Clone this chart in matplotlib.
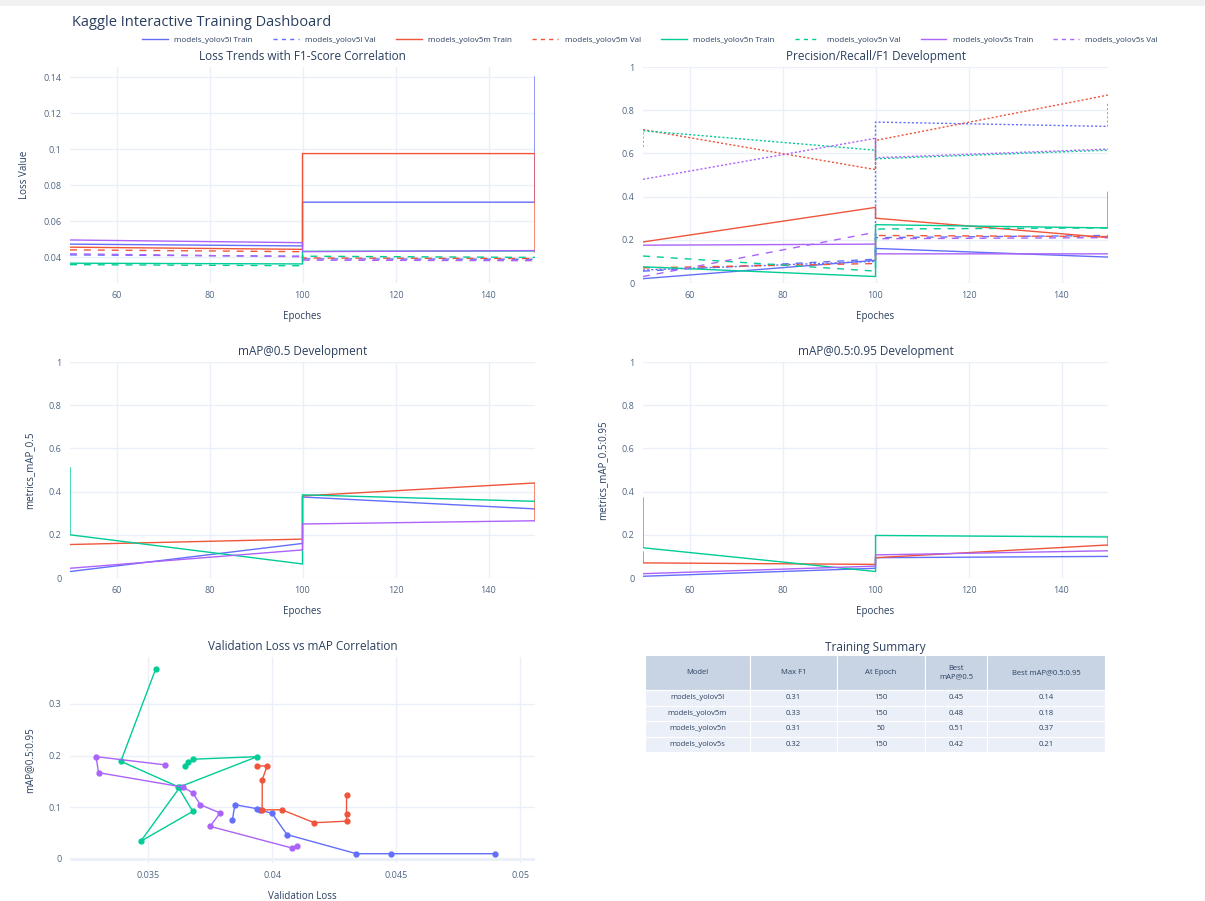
import matplotlib
matplotlib.use('Agg')
import matplotlib.pyplot as plt
from matplotlib.lines import Line2D
from matplotlib.patches import Rectangle
from matplotlib.ticker import FuncFormatter

plt.rcParams['font.family'] = ['Open Sans', 'DejaVu Sans']

W, H = 1205, 901

models = ['models_yolov5l', 'models_yolov5m', 'models_yolov5n', 'models_yolov5s']
colors = ['#636EFA', '#EF553B', '#00CC96', '#AB63FA']
epoch_ticks = [60, 80, 100, 120, 140]

# loss trends (train solid / val dashed)
loss_train_x = [[50, 100, 100, 150, 150], [50, 100, 100, 150, 150],
                [50, 100, 100, 150], [50, 100, 100, 150]]
loss_train_y = [[0.0472, 0.0462, 0.0705, 0.0705, 0.140],
                [0.0455, 0.0443, 0.0975, 0.0975, 0.0428],
                [0.0366, 0.0362, 0.0432, 0.0434],
                [0.0495, 0.0480, 0.0430, 0.0436]]
loss_val_x = [50, 100, 100, 150]
loss_val_y = [[0.0412, 0.0405, 0.0390, 0.0388],
              [0.0440, 0.0430, 0.0395, 0.0392],
              [0.0358, 0.0352, 0.0405, 0.0398],
              [0.0418, 0.0402, 0.0383, 0.0380]]

# precision (solid), recall (dotted), f1 (dashed)
prec_x = [[50, 100, 100, 150], [50, 100, 100, 150],
          [50, 100, 100, 150, 150], [50, 100, 100, 150]]
prec_y = [[0.02, 0.105, 0.16, 0.12],
          [0.19, 0.35, 0.30, 0.21],
          [0.075, 0.03, 0.27, 0.255, 0.42],
          [0.175, 0.18, 0.135, 0.135]]
recall_x = [[50, 100, 100, 150, 150], [50, 100, 100, 150],
            [50, 50, 100, 100, 150], [50, 100, 100, 150]]
recall_y = [[0.06, 0.10, 0.745, 0.725, 0.84],
            [0.71, 0.525, 0.66, 0.87],
            [0.63, 0.705, 0.615, 0.575, 0.615],
            [0.48, 0.67, 0.58, 0.62]]
f1_x = [50, 100, 100, 150]
f1_y = [[0.055, 0.11, 0.21, 0.22],
        [0.07, 0.09, 0.22, 0.215],
        [0.125, 0.055, 0.25, 0.255],
        [0.03, 0.235, 0.205, 0.21]]

# mAP@0.5
map50_x = [[50, 100, 100, 150], [50, 100, 100, 150, 150],
           [50, 50, 100, 100, 150], [50, 100, 100, 150]]
map50_y = [[0.03, 0.16, 0.375, 0.32],
           [0.155, 0.18, 0.38, 0.44, 0.265],
           [0.51, 0.20, 0.065, 0.385, 0.355],
           [0.045, 0.13, 0.25, 0.265]]

# mAP@0.5:0.95
map95_x = [[50, 100, 100, 150], [50, 50, 100, 100, 150],
           [50, 50, 100, 100, 150, 150], [50, 100, 100, 150]]
map95_y = [[0.008, 0.045, 0.094, 0.10],
           [0.12, 0.07, 0.063, 0.094, 0.153],
           [0.37, 0.14, 0.03, 0.197, 0.19, 0.15],
           [0.02, 0.055, 0.107, 0.126]]

# validation loss vs mAP@0.5:0.95
corr_x = [[0.0384, 0.0385, 0.0394, 0.0395, 0.0400, 0.0406, 0.0434, 0.0448, 0.0490],
          [0.0394, 0.0398, 0.0396, 0.0396, 0.0404, 0.0417, 0.0430, 0.0430, 0.0430],
          [0.0353, 0.0339, 0.0362, 0.0368, 0.0347, 0.0363, 0.0394, 0.0368, 0.0366, 0.0365],
          [0.0357, 0.0329, 0.0330, 0.0364, 0.0368, 0.0371, 0.0379, 0.0375, 0.0408, 0.0410]]
corr_y = [[0.076, 0.105, 0.097, 0.095, 0.088, 0.047, 0.010, 0.010, 0.010],
          [0.180, 0.180, 0.153, 0.095, 0.095, 0.070, 0.073, 0.086, 0.124],
          [0.367, 0.189, 0.140, 0.092, 0.034, 0.140, 0.198, 0.193, 0.188, 0.180],
          [0.182, 0.198, 0.167, 0.139, 0.128, 0.105, 0.089, 0.063, 0.021, 0.025]]

# summary table
table_header = ['Model', 'Max F1', 'At Epoch', 'Best\nmAP@0.5', 'Best mAP@0.5:0.95']
max_f1 = ['0.31', '0.33', '0.31', '0.32']
at_epoch = ['150', '150', '50', '150']
best_map50 = ['0.45', '0.48', '0.51', '0.42']
best_map95 = ['0.14', '0.18', '0.37', '0.21']

TXT = '#2a3f5f'
GRID = '#EBF0F8'


def px_axes(fig, x0, y0, x1, y1):
    return fig.add_axes([x0 / W, 1 - y1 / H, (x1 - x0) / W, (y1 - y0) / H])


def style(ax, title, xlabel=None, ylabel=None):
    for sp in ax.spines.values():
        sp.set_visible(False)
    ax.grid(color=GRID, lw=1)
    ax.set_axisbelow(True)
    ax.tick_params(length=0, labelsize=6.5, colors='#506784', pad=6)
    ax.yaxis.set_major_formatter(FuncFormatter(lambda v, _: f'{v:g}'))
    ax.set_title(title, fontsize=8.5, color=TXT, pad=5)
    if xlabel:
        ax.set_xlabel(xlabel, fontsize=7, color=TXT, labelpad=8)
    if ylabel:
        ax.set_ylabel(ylabel, fontsize=7, color=TXT, labelpad=10)


def epoch_axis(ax):
    ax.set_xlim(50, 150)
    ax.set_xticks(epoch_ticks)


fig = plt.figure(figsize=(W / 100, H / 100), dpi=100)
fig.add_artist(Rectangle((0, 1 - 6 / H), 1, 6 / H, transform=fig.transFigure,
                         color='#f1f1f1', lw=0))

L0, L1 = 70, 535
R0, R1 = 643, 1108

# loss trends
ax1 = px_axes(fig, L0, 67, L1, 283)
for i in range(4):
    ax1.plot(loss_train_x[i], loss_train_y[i], color=colors[i], lw=1.0)
    ax1.plot(loss_val_x, loss_val_y[i], color=colors[i], lw=1.0, ls=(0, (5, 5)))
epoch_axis(ax1)
ax1.set_ylim(0.0256, 0.1456)
ax1.set_yticks([0.04, 0.06, 0.08, 0.1, 0.12, 0.14])
style(ax1, 'Loss Trends with F1-Score Correlation', 'Epoches', 'Loss Value')

# precision / recall / f1
ax2 = px_axes(fig, R0, 67, R1, 283)
for i in range(4):
    ax2.plot(prec_x[i], prec_y[i], color=colors[i], lw=1.0)
    ax2.plot(recall_x[i], recall_y[i], color=colors[i], lw=1.0, ls=(0, (1.5, 1.5)))
    ax2.plot(f1_x, f1_y[i], color=colors[i], lw=1.0, ls=(0, (5, 5)))
epoch_axis(ax2)
ax2.set_ylim(0, 1)
ax2.set_yticks([0, 0.2, 0.4, 0.6, 0.8, 1])
style(ax2, 'Precision/Recall/F1 Development', 'Epoches')

# mAP@0.5
ax3 = px_axes(fig, L0, 362, L1, 578)
for i in range(4):
    ax3.plot(map50_x[i], map50_y[i], color=colors[i], lw=1.0)
epoch_axis(ax3)
ax3.set_ylim(0, 1)
ax3.set_yticks([0, 0.2, 0.4, 0.6, 0.8, 1])
style(ax3, 'mAP@0.5 Development', 'Epoches', 'metrics_mAP_0.5')

# mAP@0.5:0.95
ax4 = px_axes(fig, R0, 362, R1, 578)
for i in range(4):
    ax4.plot(map95_x[i], map95_y[i], color=colors[i], lw=1.0)
epoch_axis(ax4)
ax4.set_ylim(0, 1)
ax4.set_yticks([0, 0.2, 0.4, 0.6, 0.8, 1])
style(ax4, 'mAP@0.5:0.95 Development', 'Epoches', 'metrics_mAP_0.5:0.95')

# correlation scatter
ax5 = px_axes(fig, L0, 657, L1, 863)
for i in range(4):
    ax5.plot(corr_x[i], corr_y[i], color=colors[i], lw=1.0, marker='o', ms=3.5)
ax5.set_xlim(0.03185, 0.0506)
ax5.set_ylim(-0.008, 0.391)
ax5.set_xticks([0.035, 0.04, 0.045, 0.05])
ax5.set_yticks([0, 0.1, 0.2, 0.3])
style(ax5, 'Validation Loss vs mAP Correlation', 'Validation Loss', 'mAP@0.5:0.95')
ax5.xaxis.set_major_formatter(FuncFormatter(lambda v, _: f'{v:g}'))
ax5.axhline(0, color=GRID, lw=2, zorder=0)

# summary table
tab = px_axes(fig, 645, 655, 1105, 752)
tab.axis('off')
tab.set_title('Training Summary', fontsize=8.5, color=TXT, pad=3)
col_w = [105, 87, 88, 62, 118]
rows = [[m, f, e, a, b] for m, f, e, a, b in zip(models, max_f1, at_epoch, best_map50, best_map95)]
table = tab.table(cellText=rows, colLabels=table_header, colWidths=[w / sum(col_w) for w in col_w],
                  cellLoc='center', bbox=[0, 0, 1, 1])
table.auto_set_font_size(False)
table.set_fontsize(5.5)
for (r, c), cell in table.get_celld().items():
    cell.set_edgecolor('white')
    cell.set_linewidth(0.8)
    cell.get_text().set_color(TXT)
    if r == 0:
        cell.set_facecolor('#C8D4E3')
        cell.set_height(35 / 97)
    else:
        cell.set_facecolor('#EBF0F8')
        cell.set_height(15.5 / 97)

# legend
handles = []
labels = []
for m, c in zip(models, colors):
    handles.append(Line2D([], [], color=c, lw=1.0))
    labels.append(f'{m} Train')
    handles.append(Line2D([], [], color=c, lw=1.0, ls=(0, (3, 3))))
    labels.append(f'{m} Val')
fig.legend(handles, labels, loc='center', bbox_to_anchor=(650 / W, 1 - 40 / H), ncol=8,
           frameon=False, fontsize=5.8, handlelength=3.2, handletextpad=0.8,
           columnspacing=2.5, labelcolor=TXT)

fig.text(72 / W, 1 - 22 / H, 'Kaggle Interactive Training Dashboard', fontsize=10.5,
         color=TXT, va='center', ha='left')

fig.savefig('out.png', dpi=100)
